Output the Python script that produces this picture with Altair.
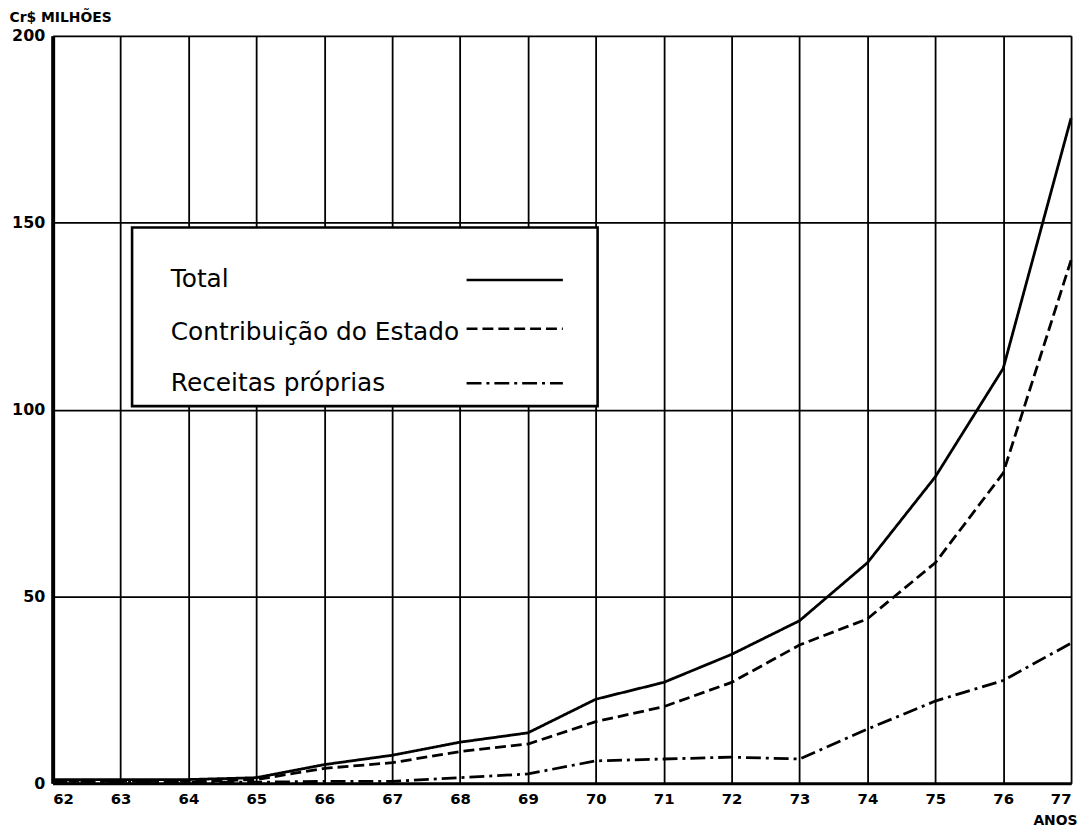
import altair as alt
import pandas as pd

# ---- data ----
years = list(range(62, 78))
total = [1, 1, 1, 1.5, 5, 7.5, 11, 13.5, 22.5, 27, 34.5, 43.5, 59, 82, 111, 178]
contrib = [0.5, 0.5, 0.5, 1, 4, 5.5, 8.5, 10.5, 16.5, 20.5, 27, 37, 44, 59, 83, 140]
receitas = [0.3, 0.3, 0.3, 0.3, 0.5, 0.5, 1.5, 2.5, 6, 6.5, 7, 6.5, 14.5, 22, 27.5, 37.5]
series = ["Total", "Contribuição do Estado", "Receitas próprias"]
y_ticks = [0, 50, 100, 150, 200]

dashes = [[1, 0], [11, 5], [15, 5, 3, 5]]

rows = []
for name, vals in zip(series, [total, contrib, receitas]):
    for yr, v in zip(years, vals):
        rows.append({"ano": yr, "valor": v, "serie": name})
df = pd.DataFrame(rows)

W, H = 1026, 753

x_enc = alt.X(
    "ano:Q",
    scale=alt.Scale(domain=[62, 77], nice=False, zero=False),
    axis=alt.Axis(
        values=years, format="d", grid=True, gridColor="black", gridWidth=1.8,
        domainColor="black", domainWidth=3, ticks=False, labelPadding=8,
        labelFont="DejaVu Sans", labelFontWeight="bold", labelFontSize=15,
        labelColor="black", title="ANOS", titleFont="DejaVu Sans",
        titleFontWeight="bold", titleFontSize=14, titleColor="black",
        titleAnchor="end", titleAlign="right", titleX=1032, titleY=42,
        titleBaseline="alphabetic",
    ),
)
y_enc = alt.Y(
    "valor:Q",
    scale=alt.Scale(domain=[0, 200], nice=False),
    axis=alt.Axis(
        values=y_ticks, grid=True, gridColor="black", gridWidth=1.8,
        domainColor="black", domainWidth=4, ticks=False, labelPadding=8,
        labelFont="DejaVu Sans", labelFontWeight="bold", labelFontSize=16,
        labelColor="black", title="Cr$ MILHÕES", titleFont="DejaVu Sans",
        titleFontWeight="bold", titleFontSize=14, titleColor="black",
        titleAngle=0, titleAlign="left", titleBaseline="alphabetic",
        titleX=-44, titleY=-14,
    ),
)

lines = alt.Chart(df).mark_line(color="black", strokeWidth=2.8, strokeCap="butt").encode(
    x=x_enc,
    y=y_enc,
    strokeDash=alt.StrokeDash("serie:N", scale=alt.Scale(domain=series, range=dashes), legend=None),
    detail="serie:N",
)

layers = [lines]

# legend box (drawn by hand to match the reference: label left, line sample right)
box = alt.Chart(pd.DataFrame({"k": [0]})).mark_rect(
    fill="white", stroke="black", strokeWidth=2.6
).encode(x=alt.value(80), x2=alt.value(549), y=alt.value(193), y2=alt.value(373))
layers.append(box)

text_y = [253, 306, 358]
rule_y = [246, 295, 350]
for name, ty, ry, d in zip(series, text_y, rule_y, dashes):
    layers.append(
        alt.Chart(pd.DataFrame({"k": [0]})).mark_text(
            align="left", baseline="alphabetic", font="DejaVu Sans",
            fontSize=25, color="black"
        ).encode(x=alt.value(119), y=alt.value(ty), text=alt.value(name))
    )
    layers.append(
        alt.Chart(pd.DataFrame({"k": [0]})).mark_rule(
            color="black", strokeWidth=2.6, strokeDash=d, strokeCap="butt"
        ).encode(x=alt.value(417), x2=alt.value(514), y=alt.value(ry))
    )

chart = alt.layer(*layers).properties(
    width=W, height=H,
    autosize=alt.AutoSizeParams(type="none"),
    padding={"left": 45, "top": 25, "right": 10, "bottom": 47},
).configure_view(stroke="black", strokeWidth=1.8).configure(background="white")

chart.save("out.html", embed_options={"renderer": "svg", "actions": False})
